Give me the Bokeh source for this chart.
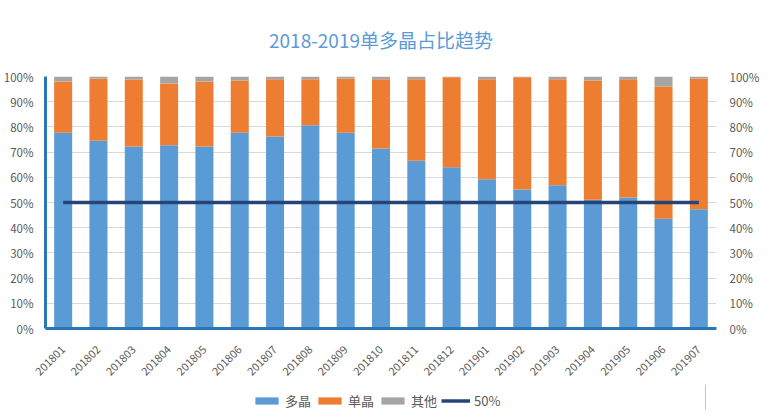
from bokeh.plotting import figure
from bokeh.layouts import column
from bokeh.models import (FactorRange, Range1d, LinearAxis, Legend, LegendItem,
                          PrintfTickFormatter, FixedTicker, ColumnDataSource, Title)
from bokeh.embed import file_html
from bokeh.resources import INLINE
import math

months = ["201801", "201802", "201803", "201804", "201805", "201806", "201807",
          "201808", "201809", "201810", "201811", "201812", "201901", "201902",
          "201903", "201904", "201905", "201906", "201907"]
multi = [77.7, 74.5, 72.2, 72.7, 72.2, 77.7, 76.2, 80.7, 77.7, 71.4,
         66.6, 64.0, 59.2, 55.2, 56.8, 51.1, 52.0, 43.6, 47.3]
mono = [20.3, 24.7, 26.6, 24.5, 25.8, 20.7, 22.7, 18.2, 21.5, 27.5,
        32.3, 35.7, 39.7, 44.5, 42.1, 47.3, 46.9, 52.4, 51.9]
other = [2.0, 0.8, 1.2, 2.8, 2.0, 1.6, 1.1, 1.1, 0.8, 1.1,
         1.1, 0.3, 1.1, 0.3, 1.1, 1.6, 1.1, 4.0, 0.8]
ref50 = [50] * len(months)
y_ticks = [0, 10, 20, 30, 40, 50, 60, 70, 80, 90, 100]

series_names = ["多晶", "单晶", "其他"]
ref_name = "50%"
colors = ["#5B9BD5", "#ED7D31", "#A5A5A5"]
ref_color = "#264478"

src = ColumnDataSource(data=dict(month=months, multi=multi, mono=mono, other=other, ref=ref50))

FONT = "Noto Sans CJK SC"
TXT = "#595959"

p = figure(frame_width=671, frame_height=252, x_range=FactorRange(factors=months, range_padding=0),
           y_range=Range1d(0, 100), output_backend="svg", toolbar_location=None,
           min_border_left=34, min_border_right=49, min_border_top=74, min_border_bottom=56)
p.outline_line_color = None

p.title = Title(text="2018-2019单多晶占比趋势", align="center", text_font=FONT,
                text_font_size="19px", text_color="#5B9BD5", text_font_style="normal",
                standoff=47)

r = p.vbar_stack(["multi", "mono", "other"], x="month", width=0.51, source=src,
                 color=colors, line_color=None)
ln = p.line(x="month", y="ref", source=src, line_color=ref_color, line_width=3.5)

# axes
p.yaxis.ticker = FixedTicker(ticks=y_ticks)
p.yaxis.formatter = PrintfTickFormatter(format="%d%%")
p.yaxis.axis_line_color = "#2E75B6"
p.yaxis.axis_line_width = 3
p.yaxis.major_tick_line_color = None
p.yaxis.minor_tick_line_color = None
p.yaxis.major_label_text_font = FONT
p.yaxis.major_label_text_font_size = "11.5px"
p.yaxis.major_label_text_color = TXT
p.yaxis.major_label_standoff = 6

p.xaxis.axis_line_color = "#2E75B6"
p.xaxis.axis_line_width = 3
p.xaxis.major_tick_line_color = None
p.xaxis.minor_tick_line_color = None
p.xaxis.major_label_orientation = math.pi / 4
p.xaxis.major_label_text_font = FONT
p.xaxis.major_label_text_font_size = "11px"
p.xaxis.major_label_text_color = TXT
p.xaxis.major_label_standoff = 13

ra = LinearAxis(ticker=FixedTicker(ticks=y_ticks), formatter=PrintfTickFormatter(format="%d%%"),
                axis_line_color=None, major_tick_line_color=None, minor_tick_line_color=None,
                major_label_text_font=FONT, major_label_text_font_size="11.5px",
                major_label_text_color=TXT, major_label_standoff=7)
p.add_layout(ra, "right")

p.xgrid.grid_line_color = None
p.ygrid.ticker = FixedTicker(ticks=y_ticks)
p.ygrid.grid_line_color = "#D9D9D9"

# legend strip (separate small figure so the legend is not clipped);
# its helper glyphs sit outside the strip's visible range, only their legend swatches show
lg = figure(width=754, height=26, output_backend="svg", toolbar_location=None,
            x_range=Range1d(0, 1), y_range=Range1d(0, 1), x_axis_type=None, y_axis_type=None,
            min_border_left=0, min_border_right=0, min_border_top=0, min_border_bottom=0)
lg.outline_line_color = None
lg.xgrid.grid_line_color = None
lg.ygrid.grid_line_color = None
series_first = [multi[0], mono[0], other[0]]
sw = [lg.vbar(x=[series_first[i]], top=[series_first[i]], width=0.1, color=colors[i],
              line_color=None) for i in range(3)]
sl = lg.line(x=ref50[:2], y=ref50[:2], line_color=ref_color, line_width=3.5)

items = [LegendItem(label=series_names[i], renderers=[sw[i]]) for i in range(3)]
items.append(LegendItem(label=ref_name, renderers=[sl]))
legend = Legend(items=items, orientation="horizontal", location=(207, 0),
                label_text_font=FONT, label_text_font_size="13px", label_text_color=TXT,
                glyph_width=29, glyph_height=9, label_standoff=4, spacing=4, label_height=14,
                padding=0, margin=0, border_line_color=None, background_fill_alpha=0)
lg.add_layout(legend, "center")

layout = column(p, lg, spacing=0)
open("out.html", "w").write(file_html(layout, INLINE))
